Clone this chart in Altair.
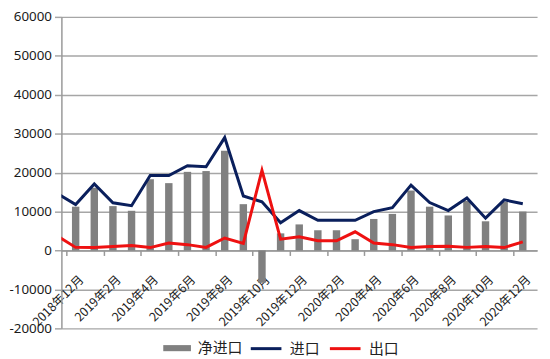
import json
import altair as alt
import pandas as pd

# Monthly categories (bars and line points are centred on these)
months = [
    "2018年12月", "2019年1月", "2019年2月", "2019年3月", "2019年4月", "2019年5月",
    "2019年6月", "2019年7月", "2019年8月", "2019年9月", "2019年10月", "2019年11月",
    "2019年12月", "2020年1月", "2020年2月", "2020年3月", "2020年4月", "2020年5月",
    "2020年6月", "2020年7月", "2020年8月", "2020年9月", "2020年10月", "2020年11月",
    "2020年12月",
]
tick_labels = [
    "2018年12月", "2019年2月", "2019年4月", "2019年6月", "2019年8月", "2019年10月",
    "2019年12月", "2020年2月", "2020年4月", "2020年6月", "2020年8月", "2020年10月",
    "2020年12月",
]
net_import = [11250, 16100, 11400, 10200, 18300, 17300, 20200, 20400, 25600, 11900,
              -8300, 4400, 6700, 5200, 5200, 2900, 8100, 9400, 15400, 11250,
              9000, 12750, 7500, 12500, 10000]
imports = [11800, 17100, 12250, 11500, 19250, 19250, 21750, 21500, 29000, 14000,
           12500, 7100, 10250, 7750, 7750, 7750, 10000, 11000, 16800, 12300,
           10250, 13500, 8300, 13000, 12000]
exports = [800, 750, 1000, 1300, 750, 1900, 1500, 800, 3200, 1800,
           20600, 2900, 3500, 2500, 2500, 4800, 1900, 1500, 750, 1000,
           1100, 800, 1000, 750, 2200]
# previous month (2018年11月), only partly visible at the left edge
prev_month = "2018年11月"
prev_import = 14700
prev_export = 3800

y_ticks = [-20000, -10000, 0, 10000, 20000, 30000, 40000, 50000, 60000]

bar_name = "净进口"
line_names = ["进口", "出口"]
bar_color = "#808080"
line_colors = ["#0a1f5c", "#ee1111"]

bars_df = pd.DataFrame({
    "idx": list(range(len(months))),
    "month": months,
    "value": net_import,
    "series": bar_name,
})

line_months = [prev_month] + months
line_idx = list(range(-1, len(months)))
lines_df = pd.concat([
    pd.DataFrame({"idx": line_idx, "month": line_months,
                  "value": [prev_import] + imports, "series": line_names[0]}),
    pd.DataFrame({"idx": line_idx, "month": line_months,
                  "value": [prev_export] + exports, "series": line_names[1]}),
])

label_expr = (json.dumps(tick_labels, ensure_ascii=False)
              + "[round((datum.value + 0.5) / 2)]")

PLOT_H = 315
x_scale = alt.Scale(domain=[-0.5, len(months) - 0.5], nice=False, zero=False)
y_scale = alt.Scale(domain=[y_ticks[0], y_ticks[-1]], nice=False)

x_axis = alt.Axis(
    values=[-0.5 + 2 * k for k in range(len(tick_labels))],
    labelExpr=label_expr,
    title=None, grid=False, offset=-PLOT_H / 4,
    labelAngle=315, labelAlign="right", labelBaseline="middle",
    labelOffset=15, labelPadding=22,
    labelFlush=False, labelOverlap=False, labelBound=False,
    labelFont="Noto Sans CJK SC", labelFontSize=12.5, labelColor="#222222",
    tickSize=5, tickColor="#999999", tickWidth=1.5,
    domainColor="#999999", domainWidth=1.5,
)
y_axis = alt.Axis(
    values=y_ticks, title=None,
    labelExpr="(datum.value < 0 ? '-' : '') + abs(datum.value)",
    labelOverlap=False, labelFlush=False,
    grid=True, gridColor="#a6a6a6", gridWidth=1.5,
    tickSize=7, tickColor="#a6a6a6", tickWidth=1.5, labelPadding=3,
    domainColor="#999999", domainWidth=1.5,
    labelFont="Noto Sans", labelFontSize=13.5, labelColor="#1a1a1a",
)

legend_common = dict(
    title=None, orient="none", direction="horizontal", padding=0,
    labelOffset=7,
    labelFont="Noto Sans CJK SC", labelFontSize=15, labelColor="#222222",
)
bar_legend = alt.Legend(
    legendX=103, legendY=321, symbolSize=784, columnPadding=8,
    symbolType="M-1,-0.22H1V0.22H-1Z", symbolStrokeWidth=0, symbolOpacity=1,
    **legend_common,
)
line_legend = alt.Legend(
    legendX=190, legendY=318.5, symbolSize=961, columnPadding=3,
    symbolType="stroke", symbolStrokeWidth=3, symbolOpacity=1,
    **legend_common,
)

bars = alt.Chart(bars_df).mark_bar(size=7.5).encode(
    x=alt.X("idx:Q", scale=x_scale, axis=x_axis),
    y=alt.Y("value:Q", scale=y_scale, axis=y_axis),
    fill=alt.Fill("series:N", scale=alt.Scale(domain=[bar_name], range=[bar_color]),
                  legend=bar_legend),
)
lines = alt.Chart(lines_df).mark_line(strokeWidth=3, clip=True).encode(
    x=alt.X("idx:Q", scale=x_scale, axis=x_axis),
    y=alt.Y("value:Q", scale=y_scale, axis=y_axis),
    stroke=alt.Stroke("series:N", scale=alt.Scale(domain=line_names, range=line_colors),
                      legend=line_legend, sort=line_names),
    detail="series:N",
)

chart = alt.layer(bars, lines).properties(
    width=481, height=PLOT_H,
    autosize=alt.AutoSizeParams(type="none"),
    padding={"left": 54, "top": 7, "right": 5, "bottom": 29},
).configure_view(stroke=None)

chart.save("out.html", embed_options={"renderer": "svg", "actions": False})
